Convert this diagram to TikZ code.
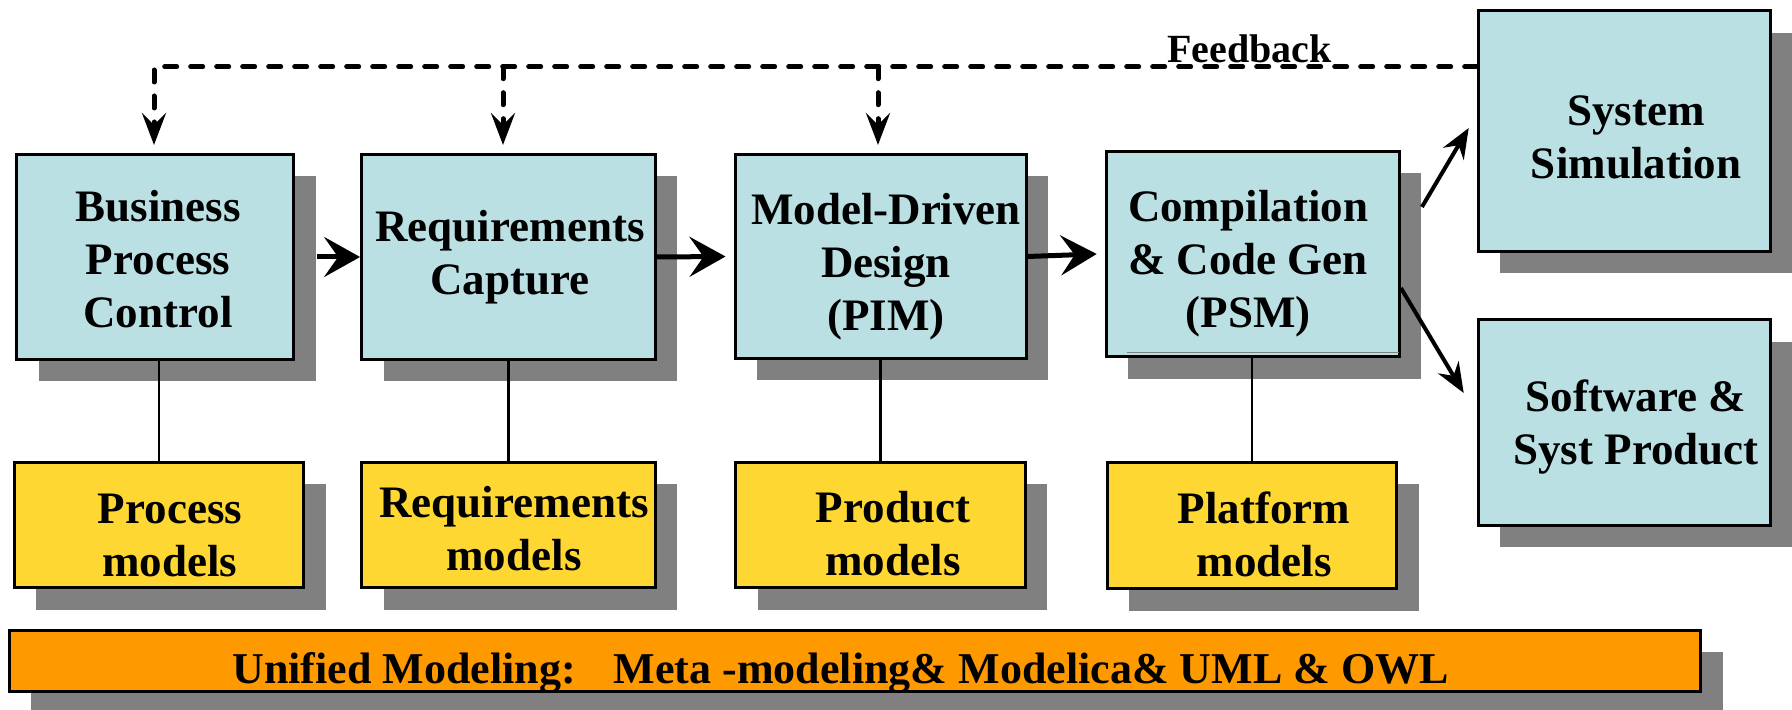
\documentclass[tikz,border=0pt]{standalone}
\usepackage{fontspec}
\setmainfont{Liberation Serif}
\usetikzlibrary{arrows.meta,shadows}
\definecolor{boxblue}{HTML}{BBE0E3}
\definecolor{boxyellow}{HTML}{FFD733}
\definecolor{boxorange}{HTML}{FF9900}
\definecolor{shadowgray}{HTML}{808080}
\begin{document}
\begin{tikzpicture}[x=0.5pt,y=-0.5pt,
  basebox/.style={draw=black, line width=1.5pt, inner sep=0pt,
    drop shadow={shadow xshift=11pt, shadow yshift=-11pt, fill=shadowgray, opacity=1}},
  bluebox/.style={basebox, fill=boxblue},
  yellowbox/.style={basebox, fill=boxyellow},
  orangebox/.style={basebox, fill=boxorange},
  txt/.style={font=\fontsize{22.5}{26.5}\selectfont\bfseries, align=center, inner sep=0pt},
  bigarrow/.style={line width=2.5pt, -{Stealth[length=18pt, width=20pt, inset=7pt]}},
  diagarrow/.style={line width=2pt, -{Stealth[length=15pt, width=12pt, inset=5pt]}},
  fbline/.style={line width=2.5pt, line cap=round, dash pattern=on 6pt off 7pt,
    -{Stealth[length=16pt, width=12pt, inset=6pt]}},
  link/.style={line width=1.2pt}
]
\useasboundingbox (0,0) rectangle (1792,710);
\fill[white] (0,0) rectangle (1792,710);

% top row boxes
\node[bluebox, minimum width=138.5pt, minimum height=102.5pt] (bpc) at (155,257) {};
\node[bluebox, minimum width=146.8pt, minimum height=102.5pt] (rc) at (508.4,257) {};
\node[bluebox, minimum width=145.5pt, minimum height=102pt] (mdd) at (880.5,256.5) {};
\node[bluebox, minimum width=146.6pt, minimum height=102.8pt] (comp) at (1252.8,254) {};
\node[bluebox, minimum width=146.3pt, minimum height=120.2pt] (sim) at (1624.5,131) {};
\node[bluebox, minimum width=146.3pt, minimum height=102.7pt] (sw) at (1624.5,422.5) {};

% model boxes
\node[yellowbox, minimum width=144.9pt, minimum height=62.7pt] (pm) at (159,525) {};
\node[yellowbox, minimum width=146.8pt, minimum height=62.7pt] (rm) at (508.4,525) {};
\node[yellowbox, minimum width=144.8pt, minimum height=62.7pt] (prm) at (880.3,525) {};
\node[yellowbox, minimum width=144.6pt, minimum height=63.1pt] (plm) at (1251.9,525.4) {};

% bottom bar
\node[orangebox, minimum width=845.7pt, minimum height=30.5pt] (bar) at (854.8,660.7) {};

% thin line inside compilation box
\draw[shadowgray, line width=0.6pt] ([xshift=10.9pt,yshift=2.8pt]comp.south west) -- ([xshift=-0.8pt,yshift=2.8pt]comp.south east);

% texts
\node[txt] (bpct) at (158,259) {Business\\Process\\Control};
\node[txt] (rct) at (510,257.5) {Requirements\\Capture};
\node[txt] (mddt) at (886,266.5) {Model-Driven\\Design\\(PIM)};
\node[txt] (compt) at (1248,264) {Compilation\\\& Code Gen\\(PSM)};
\node[txt] (simt) at (1636,137.5) {System\\Simulation};
\node[txt] (swt) at (1636,427) {Software \&\\Syst Product};
\node[txt] (pmt) at (170,535) {Process\\models};
\node[txt] (rmt) at (514,528.7) {Requirements\\models};
\node[txt] (prmt) at (893,534) {Product\\models};
\node[txt] (plmt) at (1264,534.5) {Platform\\models};
\node[anchor=base, inner sep=0pt, font=\fontsize{22}{26}\selectfont\bfseries] (bart) at (840.5,683)
  {Unified Modeling:\hspace*{19pt}Meta -modeling\& Modelica\& UML \& OWL};
\node[anchor=base, inner sep=0pt, font=\fontsize{20}{24}\selectfont\bfseries] (fbl) at (1249.5,62.7) {Feedback};

% vertical links
\draw[link] (pm.north) -- (pm.north |- bpc.south);
\draw[link] (rm.north) -- (rm.north |- rc.south);
\draw[link] (prm.north) -- (prm.north |- mdd.south);
\draw[link] (plm.north) -- (plm.north |- comp.south);

% process arrows
\draw[bigarrow] ([xshift=11pt]bpc.east) -- (rc.west);
\draw[bigarrow] (rc.east) -- ([xshift=-4pt]mdd.west);
\draw[bigarrow] (mdd.east) -- ([xshift=-4pt]comp.west);
\draw[diagarrow] ([xshift=10.5pt,yshift=23.5pt]comp.east) -- ([xshift=-4pt,yshift=1.5pt]sim.west);
\draw[diagarrow] ([yshift=-17pt]comp.east) -- ([xshift=-6.5pt,yshift=14.75pt]sw.west);

% feedback
\coordinate (fb2) at (503,66.7);
\coordinate (fb3) at (878,66.7);
\draw[fbline] ([yshift=32.15pt]sim.west) -| ([xshift=-0.5pt,yshift=4pt]bpc.north);
\draw[fbline] (fb2) -- ([xshift=-2.7pt,yshift=4pt]rc.north);
\draw[fbline] (fb3) -- ([xshift=-1.25pt,yshift=4pt]mdd.north);
\end{tikzpicture}
\end{document}
